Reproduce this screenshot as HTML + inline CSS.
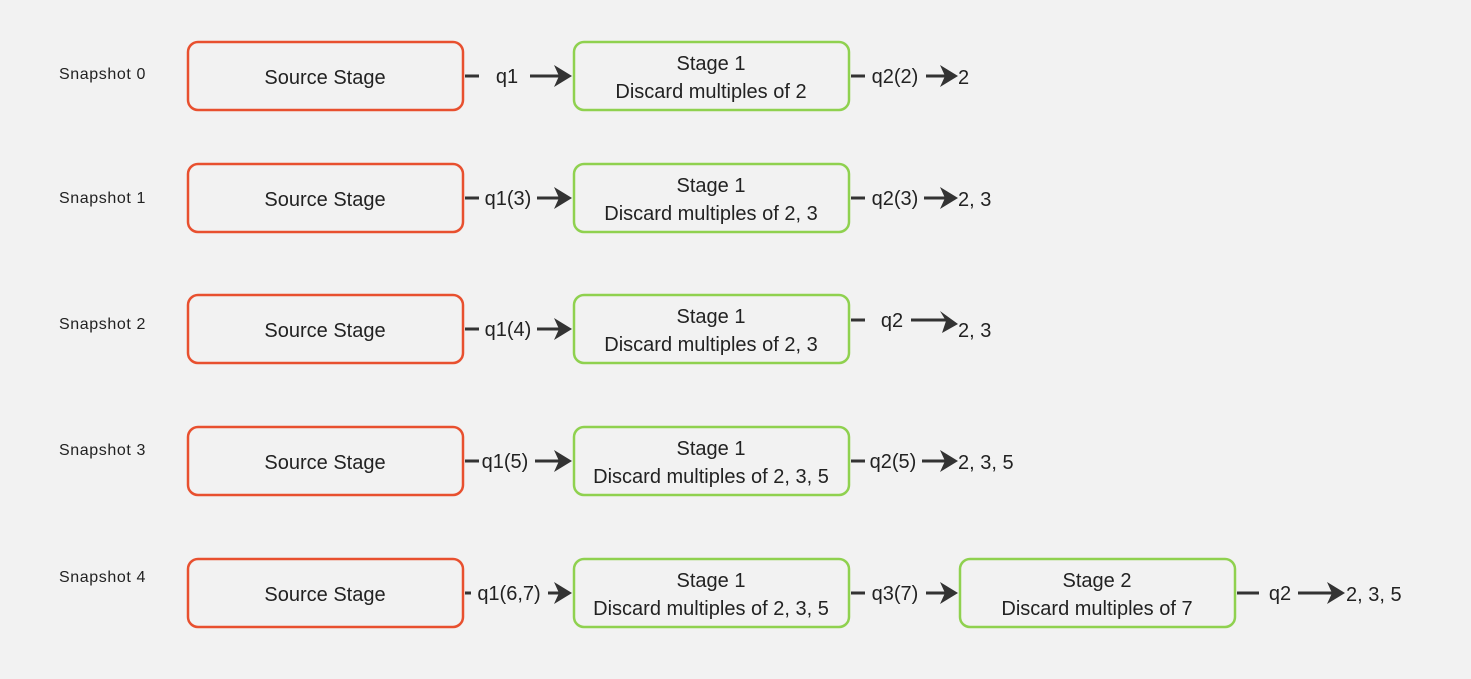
<!DOCTYPE html>
<html><head><meta charset="utf-8"><style>
html,body{margin:0;padding:0;background:#f2f2f2;}
svg{display:block;}
text{font-family:"Liberation Sans","DejaVu Sans",sans-serif;fill:#222;}
</style></head><body>
<svg width="1471" height="679" viewBox="0 0 1471 679" xmlns="http://www.w3.org/2000/svg">
<rect width="1471" height="679" fill="#f2f2f2"/>
<g font-size="16" letter-spacing="0.6">
<text x="59" y="79">Snapshot 0</text>
<text x="59" y="203">Snapshot 1</text>
<text x="59" y="329">Snapshot 2</text>
<text x="59" y="455">Snapshot 3</text>
<text x="59" y="582">Snapshot 4</text>
</g>
<g fill="none" stroke-width="2.5">
<rect x="188" y="42" width="275" height="68" rx="10" stroke="#e8502f"/>
<rect x="188" y="164" width="275" height="68" rx="10" stroke="#e8502f"/>
<rect x="188" y="295" width="275" height="68" rx="10" stroke="#e8502f"/>
<rect x="188" y="427" width="275" height="68" rx="10" stroke="#e8502f"/>
<rect x="188" y="559" width="275" height="68" rx="10" stroke="#e8502f"/>
<rect x="574" y="42" width="275" height="68" rx="10" stroke="#8fd14f"/>
<rect x="574" y="164" width="275" height="68" rx="10" stroke="#8fd14f"/>
<rect x="574" y="295" width="275" height="68" rx="10" stroke="#8fd14f"/>
<rect x="574" y="427" width="275" height="68" rx="10" stroke="#8fd14f"/>
<rect x="574" y="559" width="275" height="68" rx="10" stroke="#8fd14f"/>
<rect x="960" y="559" width="275" height="68" rx="10" stroke="#8fd14f"/>
</g>
<g font-size="20" text-anchor="middle">
<text x="325" y="84">Source Stage</text>
<text x="325" y="206">Source Stage</text>
<text x="325" y="337">Source Stage</text>
<text x="325" y="469">Source Stage</text>
<text x="325" y="601">Source Stage</text>
<text x="711" y="70">Stage 1</text><text x="711" y="98">Discard multiples of 2</text>
<text x="711" y="192">Stage 1</text><text x="711" y="220">Discard multiples of 2, 3</text>
<text x="711" y="323">Stage 1</text><text x="711" y="351">Discard multiples of 2, 3</text>
<text x="711" y="455">Stage 1</text><text x="711" y="483">Discard multiples of 2, 3, 5</text>
<text x="711" y="587">Stage 1</text><text x="711" y="615">Discard multiples of 2, 3, 5</text>
<text x="1097" y="587">Stage 2</text><text x="1097" y="615">Discard multiples of 7</text>
</g>
<g stroke="#333" stroke-width="3" fill="none">
<line x1="465" y1="76" x2="479" y2="76"/><line x1="530" y1="76" x2="560" y2="76"/>
<line x1="851" y1="76" x2="865" y2="76"/><line x1="926" y1="76" x2="946" y2="76"/>
<line x1="465" y1="198" x2="479" y2="198"/><line x1="537" y1="198" x2="560" y2="198"/>
<line x1="851" y1="198" x2="865" y2="198"/><line x1="924" y1="198" x2="946" y2="198"/>
<line x1="465" y1="329" x2="479" y2="329"/><line x1="537" y1="329" x2="560" y2="329"/>
<line x1="851" y1="320" x2="865" y2="320"/><line x1="911" y1="320" x2="946" y2="320"/>
<line x1="465" y1="461" x2="479" y2="461"/><line x1="535" y1="461" x2="560" y2="461"/>
<line x1="851" y1="461" x2="865" y2="461"/><line x1="922" y1="461" x2="946" y2="461"/>
<line x1="465" y1="593" x2="471" y2="593"/><line x1="548" y1="593" x2="560" y2="593"/>
<line x1="851" y1="593" x2="865" y2="593"/><line x1="926" y1="593" x2="946" y2="593"/>
<line x1="1237" y1="593" x2="1259" y2="593"/><line x1="1298" y1="593" x2="1333" y2="593"/>
</g>
<g fill="#333">
<path d="M572,76 l-18,-11 l5,11 l-5,11 z"/>
<path d="M958,76 l-18,-11 l5,11 l-5,11 z"/>
<path d="M572,198 l-18,-11 l5,11 l-5,11 z"/>
<path d="M958,198 l-18,-11 l5,11 l-5,11 z"/>
<path d="M572,329 l-18,-11 l5,11 l-5,11 z"/>
<path d="M958,324 l-18,-13 l6,10 l-4,12 z"/>
<path d="M572,461 l-18,-11 l5,11 l-5,11 z"/>
<path d="M958,461 l-18,-11 l5,11 l-5,11 z"/>
<path d="M572,593 l-18,-11 l5,11 l-5,11 z"/>
<path d="M958,593 l-18,-11 l5,11 l-5,11 z"/>
<path d="M1345,593 l-18,-11 l5,11 l-5,11 z"/>
</g>
<g font-size="20" text-anchor="middle">
<text x="507" y="83">q1</text>
<text x="508" y="205">q1(3)</text>
<text x="508" y="336">q1(4)</text>
<text x="505" y="468">q1(5)</text>
<text x="509" y="600">q1(6,7)</text>
<text x="895" y="83">q2(2)</text>
<text x="895" y="205">q2(3)</text>
<text x="892" y="327">q2</text>
<text x="893" y="468">q2(5)</text>
<text x="895" y="600">q3(7)</text>
<text x="1280" y="600">q2</text>
</g>
<g font-size="20">
<text x="958" y="84">2</text>
<text x="958" y="206">2, 3</text>
<text x="958" y="337">2, 3</text>
<text x="958" y="469">2, 3, 5</text>
<text x="1346" y="601">2, 3, 5</text>
</g>
</svg>
</body></html>
